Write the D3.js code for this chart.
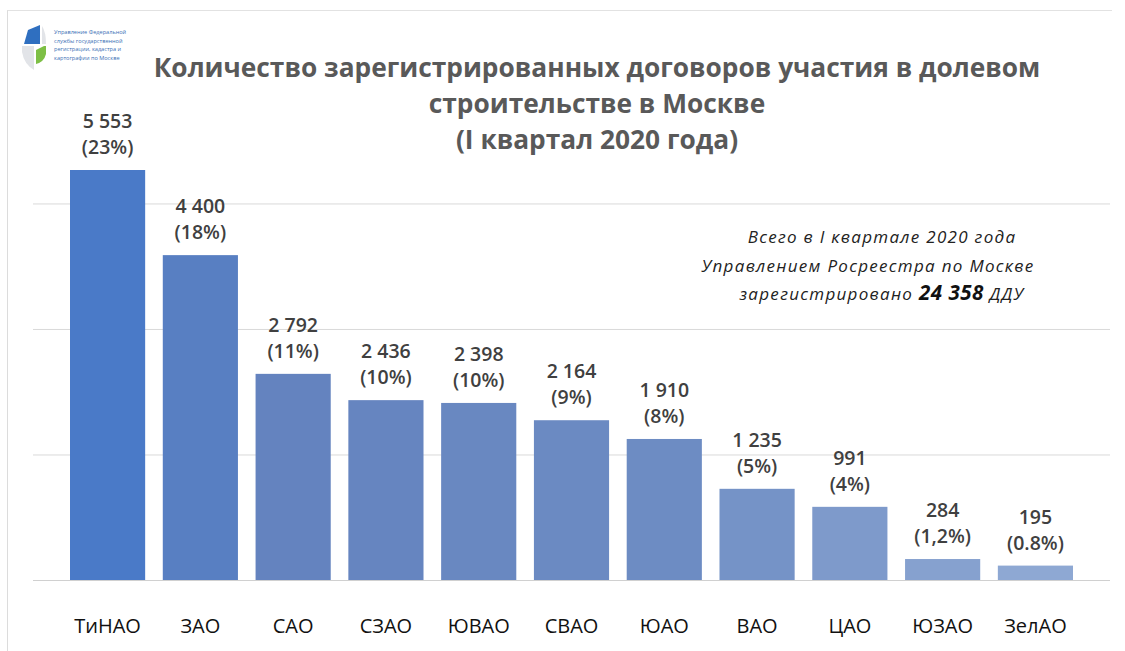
<!DOCTYPE html>
<html>
<head>
<meta charset="utf-8">
<script src="https://cdn.jsdelivr.net/npm/d3@7"></script>
<style>
  html, body { margin: 0; padding: 0; background: #fff; }
  svg { display: block; }
</style>
</head>
<body>
<svg id="chart" width="1125" height="651"></svg>
<script>
// ---- data ----
const categories = ["ТиНАО", "ЗАО", "САО", "СЗАО", "ЮВАО", "СВАО", "ЮАО", "ВАО", "ЦАО", "ЮЗАО", "ЗелАО"];
const values = [5553, 4400, 2792, 2436, 2398, 2164, 1910, 1235, 991, 284, 195];
const shares = ["23%", "18%", "11%", "10%", "10%", "9%", "8%", "5%", "4%", "1,2%", "0.8%"];
const gridValues = [1700, 3400, 5100];
const titleLines = ["Количество зарегистрированных договоров участия в долевом", "строительстве в Москве", "(I квартал 2020 года)"];
const noteLines = ["Всего в I квартале 2020 года", "Управлением Росреестра по Москве"];
const noteTotalPrefix = "зарегистрировано ";
const noteTotal = "24 358";
const noteTotalSuffix = " ДДУ";
const logoLines = ["Управление Федеральной", "службы государственной", "регистрации, кадастра и", "картографии по Москве"];

const svg = d3.select("#chart");
const W = 1125, H = 651;

// frame
svg.append("line").attr("x1", 7.5).attr("x2", 7.5).attr("y1", 10).attr("y2", H).attr("stroke", "#dcdcdc");
svg.append("line").attr("x1", 7.5).attr("x2", 1112).attr("y1", 10.5).attr("y2", 10.5).attr("stroke", "#e2e2e2");

// scales
const x = d3.scaleBand().domain(categories).range([70, 1073]).paddingInner(0.19).paddingOuter(0);
const y = d3.scaleLinear().domain([0, 5553]).range([580, 170]);

const color = d3.scaleLinear()
  .domain([0, 1, 2, 6, 10])
  .range(["#4a7ac8", "#587fc2", "#6483bf", "#6d8cc3", "#8ea8d3"])
  .interpolate(d3.interpolateRgb);

// gridlines
const gridAxis = d3.axisLeft(y).tickValues(gridValues).tickSize(-(1110 - 33)).tickFormat("");
const g = svg.append("g").attr("transform", "translate(33,0)").call(gridAxis);
g.select(".domain").remove();
g.selectAll(".tick line").attr("stroke", "#d9d9d9").attr("stroke-width", 1);

// baseline
svg.append("line").attr("x1", 33).attr("x2", 1110).attr("y1", y(0) + 0.5).attr("y2", y(0) + 0.5).attr("stroke", "#d0d0d0");

// bars
svg.append("g").selectAll("rect").data(values).join("rect")
  .attr("x", (d, i) => x(categories[i]))
  .attr("width", x.bandwidth())
  .attr("y", d => y(d))
  .attr("height", d => y(0) - y(d))
  .attr("fill", (d, i) => color(i));

// value labels
const fmt = v => d3.format(",")(v).replace(/,/g, " ");
const lab = svg.append("g").attr("font-family", "'Open Sans', sans-serif").attr("font-size", 19.5)
  .attr("font-weight", 600).attr("fill", "#404040").attr("text-anchor", "middle");
values.forEach((v, i) => {
  const cx = x(categories[i]) + x.bandwidth() / 2;
  lab.append("text").attr("x", cx).attr("y", y(v) - 42).text(fmt(v));
  lab.append("text").attr("x", cx).attr("y", y(v) - 16).text("(" + shares[i] + ")");
});

// x axis labels
const xAxis = d3.axisBottom(x).tickSize(0).tickPadding(0);
const xa = svg.append("g").attr("transform", "translate(0,619)").call(xAxis);
xa.select(".domain").remove();
xa.selectAll("text").attr("font-family", "'Open Sans', sans-serif").attr("font-size", 20)
  .attr("fill", "#111").attr("dy", "0.71em");

// title
const t = svg.append("g").attr("font-family", "'Open Sans', sans-serif").attr("font-weight", 700)
  .attr("font-size", 26.3).attr("fill", "#595959").attr("text-anchor", "middle");
[77, 113, 149].forEach((yy, i) => t.append("text").attr("x", 597).attr("y", yy).text(titleLines[i]));

// note
const n = svg.append("g").attr("font-family", "'Open Sans', sans-serif").attr("font-style", "italic")
  .attr("font-size", 17).attr("letter-spacing", 1.3).attr("fill", "#222").attr("text-anchor", "middle");
n.append("text").attr("x", 882).attr("y", 243).text(noteLines[0]);
n.append("text").attr("x", 868).attr("y", 272).text(noteLines[1]);
const n3 = n.append("text").attr("x", 882).attr("y", 300);
n3.append("tspan").text(noteTotalPrefix);
n3.append("tspan").attr("font-weight", 700).attr("font-size", 20.5).attr("letter-spacing", 0.5).attr("fill", "#111").text(noteTotal);
n3.append("tspan").text(noteTotalSuffix);

// logo
const logo = svg.append("g");
logo.append("path").attr("d", "M28,30 L40,25 L40,44 L24,44 Z").attr("fill", "#2f6fc0");
logo.append("path").attr("d", "M44,46 L46,46 L46,54 Q44,62 36,64 L36,50 Z").attr("fill", "#7dbf45");
logo.append("path").attr("d", "M22,46 L34,46 L34,70 Q24,64 22,52 Z").attr("fill", "#e2e4e8");
logo.append("path").attr("d", "M42,26 Q46,32 46,44 L42,44 Z").attr("fill", "#e2e4e8");
const lt = logo.append("g").attr("font-family", "'Open Sans', sans-serif").attr("font-size", 5.6).attr("fill", "#3a6fb5");
logoLines.forEach((s, i) => lt.append("text").attr("x", 54).attr("y", 34 + i * 8.5).text(s));
</script>
</body>
</html>
